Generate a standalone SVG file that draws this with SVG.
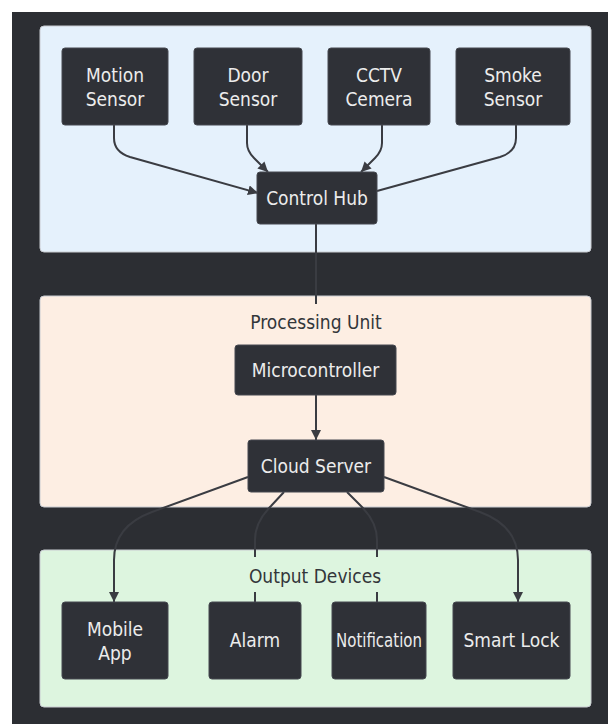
<svg xmlns="http://www.w3.org/2000/svg" width="608" height="724" viewBox="0 0 608 724">
  <style>
    .txt { font-family: "DejaVu Sans Condensed", "DejaVu Sans", sans-serif; font-stretch: condensed; font-size: 19px; text-anchor: middle; }
    .node rect { fill: #2f3137; stroke: #464950; stroke-width: 1; }
    .node text { fill: #ececec; }
    .panel { stroke: #c9ccd2; stroke-width: 1; }
    .cl { fill: #33363a; }
    .edge { fill: none; stroke: #3a3c42; stroke-width: 2; }
  </style>
  <defs>
    <marker id="arrow" viewBox="0 0 10 10" refX="10" refY="5" markerWidth="10" markerHeight="10" markerUnits="userSpaceOnUse" orient="auto">
      <path d="M0,0 L10,5 L0,10 z" fill="#3a3c42"/>
    </marker>
  </defs>

  <!-- page -->
  <rect x="0" y="0" width="608" height="724" fill="#ffffff"/>
  <rect x="12" y="12" width="596" height="712" fill="#2c2e33"/>

  <!-- cluster panels -->
  <g id="sensors-panel">
    <rect class="panel" x="40" y="26" width="551" height="226" rx="4" fill="#e5f1fc"/>
  </g>
  <g id="processing-panel">
    <rect class="panel" x="40" y="296" width="551" height="211" rx="4" fill="#fdeee3"/>
  </g>
  <g id="output-panel">
    <rect class="panel" x="40" y="550" width="551" height="157" rx="4" fill="#ddf5df"/>
  </g>

  <!-- connectors -->
  <g id="connectors">
    <path class="edge" d="M114,125 L114,138 Q114,152 130,157 L258,193" marker-end="url(#arrow)"/>
    <path class="edge" d="M247,125 L247,143 Q247,151 254,158 L268,172" marker-end="url(#arrow)"/>
    <path class="edge" d="M382,125 L382,143 Q382,151 375,158 L361,172" marker-end="url(#arrow)"/>
    <path class="edge" d="M516,125 L516,138 Q516,152 500,157 L377,191"/>
    <path class="edge" d="M316,224 L316,304"/>
    <path class="edge" d="M316,395 L316,440" marker-end="url(#arrow)"/>
    <path class="edge" d="M248,477 L152,512 Q114,526 114,560 L114,602" marker-end="url(#arrow)"/>
    <path class="edge" d="M384,477 L480,512 Q518,526 518,560 L518,602" marker-end="url(#arrow)"/>
    <path class="edge" d="M284,492 L271,506 Q255,522 255,540 L255,602"/>
    <path class="edge" d="M347,492 L361,506 Q377,522 377,540 L377,602"/>
  </g>

  <!-- cluster labels -->
  <g id="processing-label">
    <rect x="244" y="305" width="144" height="34" fill="#fdeee3"/>
    <text class="txt cl" x="316" y="329">Processing Unit</text>
  </g>
  <g id="output-label">
    <rect x="242" y="557" width="146" height="35" fill="#ddf5df"/>
    <text class="txt cl" x="315" y="583">Output Devices</text>
  </g>

  <!-- nodes -->
  <g id="motion-sensor" class="node">
    <rect x="62" y="48" width="106" height="77" rx="3"/>
    <text class="txt" x="115" y="82">Motion</text>
    <text class="txt" x="115" y="106">Sensor</text>
  </g>
  <g id="door-sensor" class="node">
    <rect x="194" y="48" width="108" height="77" rx="3"/>
    <text class="txt" x="248" y="82">Door</text>
    <text class="txt" x="248" y="106">Sensor</text>
  </g>
  <g id="cctv-camera" class="node">
    <rect x="328" y="48" width="102" height="77" rx="3"/>
    <text class="txt" x="379" y="82">CCTV</text>
    <text class="txt" x="379" y="106">Cemera</text>
  </g>
  <g id="smoke-sensor" class="node">
    <rect x="456" y="48" width="114" height="77" rx="3"/>
    <text class="txt" x="513" y="82">Smoke</text>
    <text class="txt" x="513" y="106">Sensor</text>
  </g>
  <g id="control-hub" class="node">
    <rect x="257" y="172" width="120" height="52" rx="3"/>
    <text class="txt" x="317" y="205">Control Hub</text>
  </g>
  <g id="microcontroller" class="node">
    <rect x="235" y="345" width="161" height="50" rx="3"/>
    <text class="txt" x="315.5" y="377">Microcontroller</text>
  </g>
  <g id="cloud-server" class="node">
    <rect x="248" y="440" width="136" height="52" rx="3"/>
    <text class="txt" x="316" y="473">Cloud Server</text>
  </g>
  <g id="mobile-app" class="node">
    <rect x="62" y="602" width="106" height="77" rx="3"/>
    <text class="txt" x="115" y="636">Mobile</text>
    <text class="txt" x="115" y="660">App</text>
  </g>
  <g id="alarm" class="node">
    <rect x="209" y="602" width="92" height="77" rx="3"/>
    <text class="txt" x="255" y="647">Alarm</text>
  </g>
  <g id="notification" class="node">
    <rect x="332" y="602" width="94" height="77" rx="3"/>
    <text class="txt" x="379" y="647" textLength="86" lengthAdjust="spacingAndGlyphs">Notification</text>
  </g>
  <g id="smart-lock" class="node">
    <rect x="453" y="602" width="117" height="77" rx="3"/>
    <text class="txt" x="511.5" y="647">Smart Lock</text>
  </g>
</svg>
